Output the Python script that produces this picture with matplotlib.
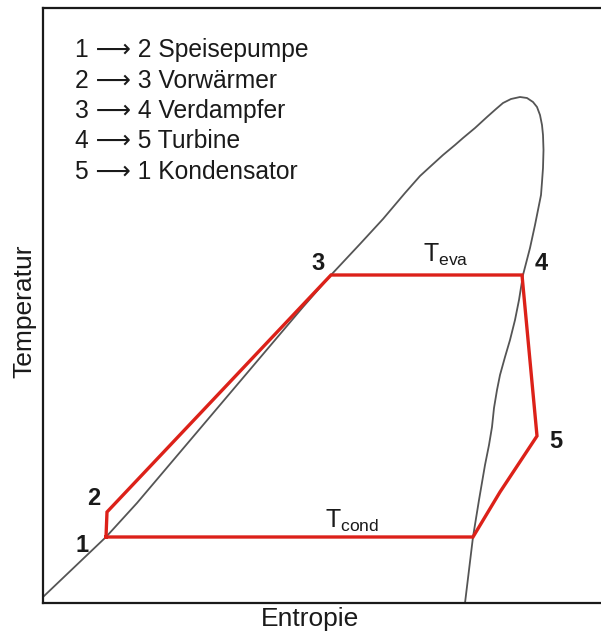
import matplotlib
matplotlib.use('Agg')
import matplotlib.pyplot as plt

plt.rcParams['font.family'] = ['Liberation Sans', 'DejaVu Sans']
plt.rcParams['mathtext.fontset'] = 'custom'
plt.rcParams['mathtext.rm'] = 'Liberation Sans'

# Sättigungskurve (Siedelinie links, Taulinie rechts)
s_sat = [0, 63, 94, 260, 288, 317, 340, 362, 377, 389, 400, 412, 420, 432, 444, 453,
         460, 468, 477, 484, 490, 494, 497, 499, 500, 500.5, 500, 499, 498, 495, 492,
         487, 480, 476, 472, 467, 462, 457, 454, 451, 449, 446, 442, 436, 430, 426, 422]
T_sat = [6, 66, 100, 296, 328, 359, 384, 410, 427, 438, 448, 458, 465, 475, 486, 494,
         500, 504, 506, 505, 501, 496, 488, 478, 468, 453, 435, 421, 408, 393, 378,
         355, 328, 303, 283, 263, 246, 228, 213, 195, 176, 158, 138, 103, 66, 33, 0]

# Kreisprozess 1 -> 2 -> 3 -> 4 -> 5 -> 1
s_cyc = [63, 64, 288, 479, 494, 457, 430, 63]
T_cyc = [66, 91, 328, 328, 167, 111, 66, 66]

punkte = ['1', '2', '3', '4', '5']
punkt_pos = [(39.5, 51), (51, 98), (275, 333), (498.5, 333), (512.5, 155)]

schritte = ['1 ⟶ 2 Speisepumpe', '2 ⟶ 3 Vorwärmer', '3 ⟶ 4 Verdampfer',
            '4 ⟶ 5 Turbine', '5 ⟶ 1 Kondensator']

fig = plt.figure(figsize=(6.01, 6.36), dpi=100)
ax = fig.add_axes([43 / 601, 33 / 636, 558 / 601, 595 / 636])
ax.set_xlim(0, 558)
ax.set_ylim(0, 595)

ax.plot(s_sat, T_sat, color='#555555', lw=1.3, zorder=2)
ax.plot(s_cyc, T_cyc, color='#dc2119', lw=2.4, solid_joinstyle='miter', zorder=3)

for p, (x, y) in zip(punkte, punkt_pos):
    ax.text(x, y, p, fontsize=17, fontweight='bold', ha='center', va='baseline', color='#1a1a1a')

ax.text(380, 341, r'T$_{\mathrm{eva}}$', fontsize=18, va='baseline', color='#1a1a1a')
ax.text(282, 75, r'T$_{\mathrm{cond}}$', fontsize=18, va='baseline', color='#1a1a1a')

for i, t in enumerate(schritte):
    ax.text(32, 546 - i * 30.5, t, fontsize=17.7, va='baseline', color='#1a1a1a')

for side in ['left', 'bottom', 'top']:
    ax.spines[side].set_linewidth(1.6)
    ax.spines[side].set_color('#1a1a1a')
ax.spines['right'].set_visible(False)
ax.set_xticks([])
ax.set_yticks([])

fig.text(310 / 601, 1 - 626 / 636, 'Entropie', fontsize=19, ha='center', va='baseline', color='#1a1a1a')
fig.text(24 / 601, 1 - 311 / 636, 'Temperatur', fontsize=19, rotation=90, ha='center', va='center', color='#1a1a1a')

fig.savefig('out.png', dpi=100)
